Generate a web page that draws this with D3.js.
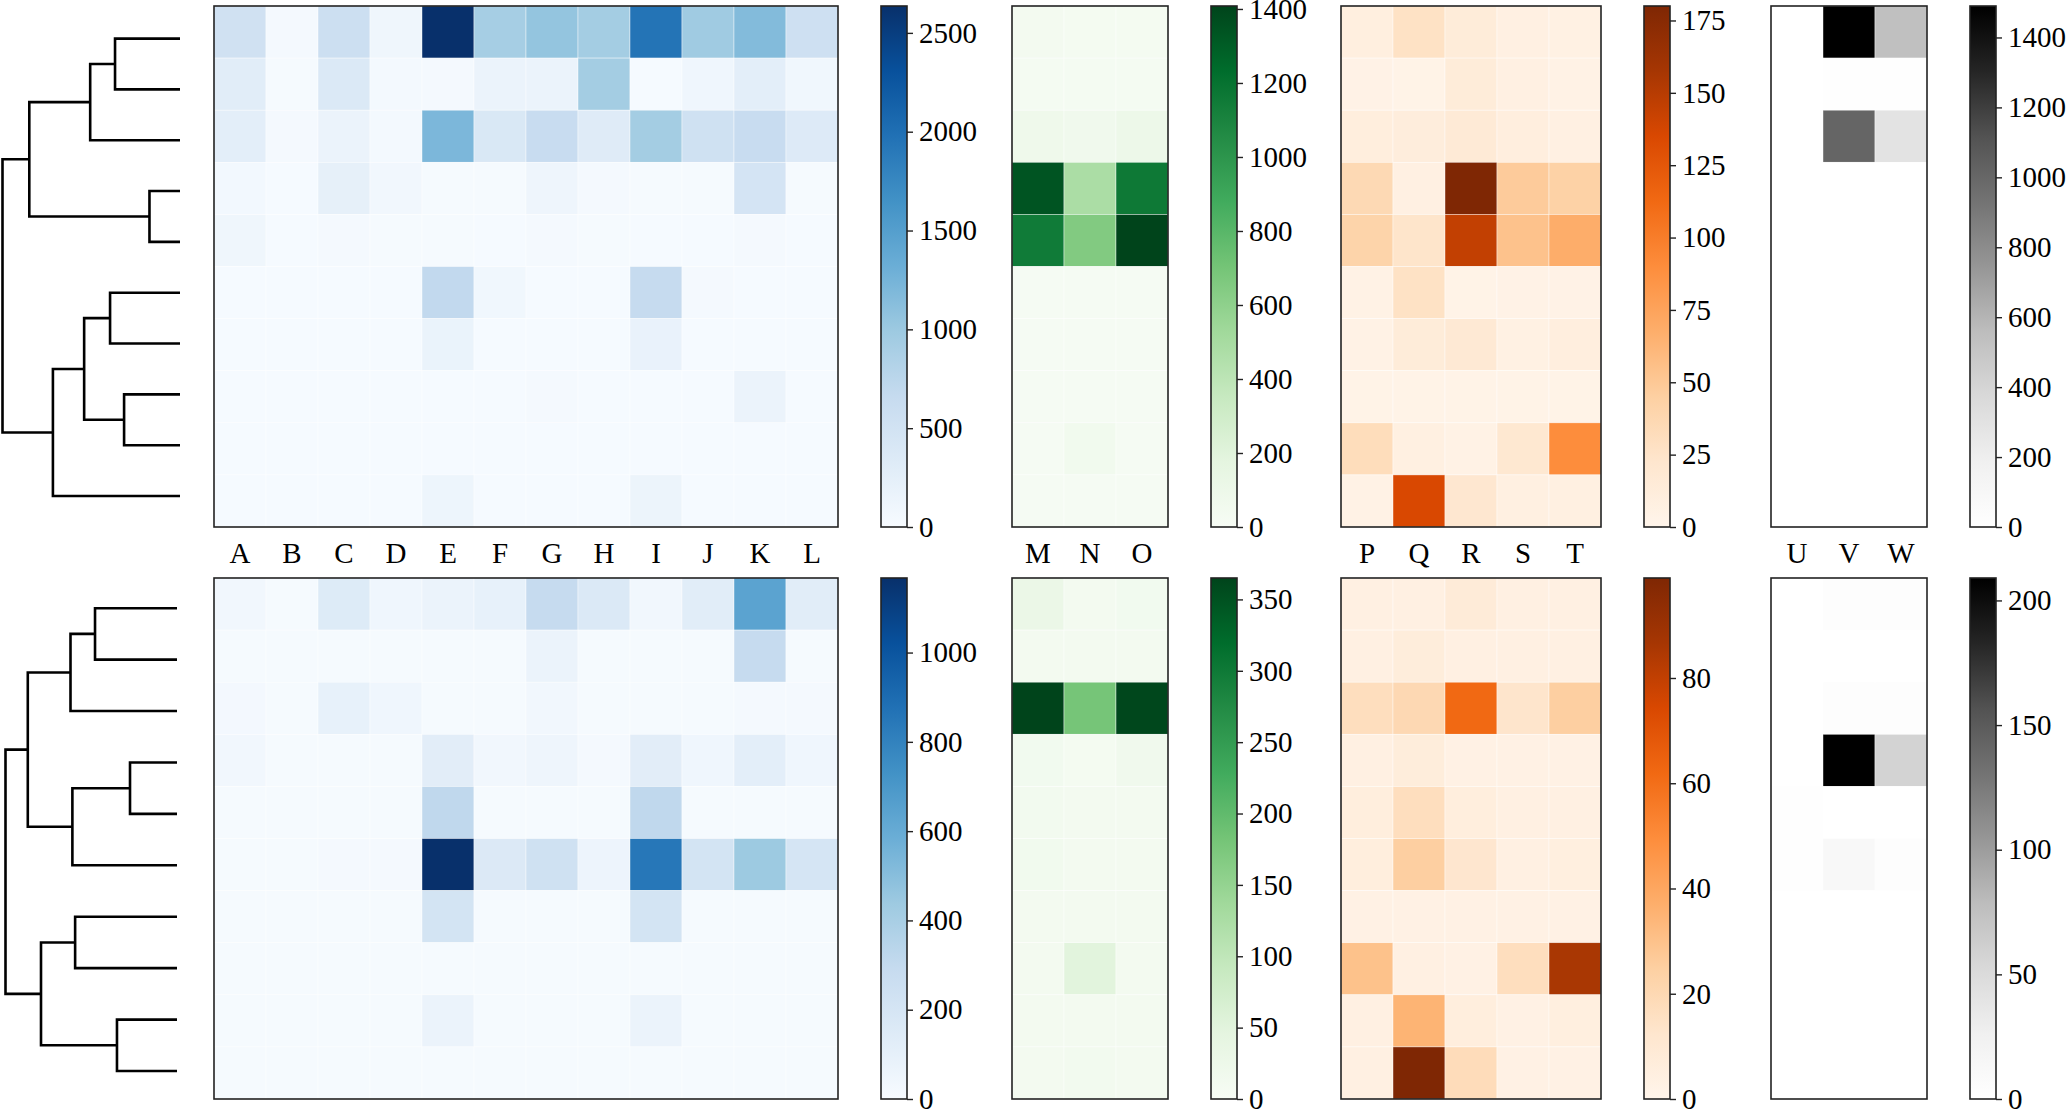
<!DOCTYPE html>
<html>
<head>
<meta charset="utf-8">
<script src="https://d3js.org/d3.v7.min.js"></script>
<style>
  body { margin: 0; background: #fff; }
  text { font-family: "Liberation Serif", "Times New Roman", serif; fill: #000; }
</style>
</head>
<body>
<svg id="chart" width="2067" height="1111"></svg>
<script>
// column labels for each block
const colsBlue = ["A","B","C","D","E","F","G","H","I","J","K","L"];
const colsGreen = ["M","N","O"];
const colsOrange = ["P","Q","R","S","T"];
const colsGray = ["U","V","W"];

// top heatmaps (10 rows, in dendrogram order)
const topBlue = [
  [527, 40, 580, 110, 2636, 920, 1050, 935, 1950, 975, 1160, 550],
  [290, 30, 370, 50, 40, 160, 160, 935, 20, 100, 260, 90],
  [260, 35, 160, 50, 1210, 400, 630, 320, 935, 530, 630, 340],
  [60, 20, 230, 80, 30, 30, 120, 40, 30, 30, 470, 30],
  [110, 20, 40, 30, 30, 20, 40, 30, 20, 20, 40, 20],
  [20, 20, 20, 20, 690, 90, 20, 20, 660, 40, 20, 20],
  [20, 20, 20, 20, 170, 20, 20, 20, 180, 20, 20, 20],
  [20, 20, 20, 20, 20, 20, 40, 20, 20, 20, 160, 20],
  [20, 20, 20, 20, 20, 20, 20, 20, 20, 20, 20, 20],
  [20, 20, 20, 20, 130, 20, 20, 20, 150, 20, 20, 20]
];
const topGreen = [
  [40, 30, 30],
  [25, 25, 25],
  [80, 70, 100],
  [1340, 480, 1160],
  [1150, 650, 1408],
  [20, 20, 20],
  [20, 20, 20],
  [20, 20, 20],
  [20, 60, 20],
  [20, 20, 20]
];
const topOrange = [
  [9, 27, 14, 7, 6],
  [4, 3, 14, 7, 5],
  [11, 12, 16, 10, 7],
  [36, 7, 180, 48, 43],
  [41, 24, 145, 54, 68],
  [5, 27, 3, 4, 4],
  [5, 14, 18, 6, 10],
  [3, 3, 3, 3, 3],
  [32, 8, 5, 20, 90],
  [5, 135, 21, 8, 8]
];
const topGray = [
  [0, 1490, 540],
  [0, 15, 15],
  [0, 1010, 290],
  [0, 0, 0],
  [0, 5, 5],
  [0, 0, 0],
  [0, 0, 0],
  [0, 0, 0],
  [0, 0, 0],
  [0, 0, 0]
];

// bottom heatmaps
const bottomBlue = [
  [35, 10, 150, 45, 70, 95, 290, 165, 35, 130, 640, 130],
  [10, 10, 10, 10, 10, 10, 70, 10, 10, 10, 290, 10],
  [25, 10, 95, 45, 10, 10, 35, 10, 10, 10, 20, 15],
  [35, 10, 10, 10, 125, 35, 55, 20, 125, 45, 115, 45],
  [10, 10, 10, 10, 315, 10, 10, 10, 315, 10, 10, 10],
  [10, 10, 20, 20, 1167, 160, 235, 60, 850, 210, 440, 200],
  [10, 10, 10, 10, 210, 10, 10, 10, 210, 10, 10, 10],
  [10, 10, 10, 10, 10, 10, 10, 10, 10, 10, 10, 10],
  [10, 10, 10, 10, 70, 10, 10, 10, 70, 10, 10, 10],
  [10, 10, 10, 10, 10, 10, 10, 10, 10, 10, 10, 10]
];
const bottomGreen = [
  [30, 10, 14],
  [10, 10, 10],
  [365, 180, 362],
  [14, 8, 17],
  [12, 10, 10],
  [15, 10, 10],
  [10, 10, 10],
  [10, 50, 10],
  [10, 10, 10],
  [10, 12, 10]
];
const bottomOrange = [
  [4, 4, 8, 4, 4],
  [4, 7, 4, 4, 4],
  [17, 20, 62, 13, 25],
  [4, 7, 3, 3, 3],
  [6, 17, 6, 4, 4],
  [6, 25, 12, 4, 5],
  [3, 3, 3, 3, 3],
  [30, 4, 3, 17, 86],
  [4, 35, 6, 3, 5],
  [4, 99, 18, 3, 3]
];
const bottomGray = [
  [0, 4, 4],
  [0, 0, 0],
  [0, 4, 3],
  [0, 209, 58],
  [2, 0, 0],
  [2, 12, 4],
  [0, 0, 0],
  [0, 0, 0],
  [0, 0, 0],
  [0, 0, 0]
];

// colorbar tick labels
const ticksTopBlue = [0, 500, 1000, 1500, 2000, 2500];
const ticksTopGreen = [0, 200, 400, 600, 800, 1000, 1200, 1400];
const ticksTopOrange = [0, 25, 50, 75, 100, 125, 150, 175];
const ticksTopGray = [0, 200, 400, 600, 800, 1000, 1200, 1400];
const ticksBottomBlue = [0, 200, 400, 600, 800, 1000];
const ticksBottomGreen = [0, 50, 100, 150, 200, 250, 300, 350];
const ticksBottomOrange = [0, 20, 40, 60, 80];
const ticksBottomGray = [0, 50, 100, 150, 200];

// dendrograms as linkage rows: [left child, right child, height]; leaves are 0..9
const linkTop = [
  [0, 1, 0.366], [10, 2, 0.506], [3, 4, 0.172], [11, 12, 0.849],
  [5, 6, 0.394], [7, 8, 0.315], [14, 15, 0.540], [16, 9, 0.716],
  [13, 17, 1.0]
];
const linkBottom = [
  [0, 1, 0.478], [10, 2, 0.621], [3, 4, 0.274], [12, 5, 0.610],
  [11, 13, 0.870], [6, 7, 0.594], [8, 9, 0.350], [15, 16, 0.793],
  [14, 17, 1.0]
];

// ---- layout ----
const svg = d3.select("#chart");
const cell = 52;
const rowsY = [{y0: 6, y1: 527}, {y0: 578, y1: 1099}];
const fontSize = 29;

const blocks = [
  {cols: colsBlue, data: [topBlue, bottomBlue], scheme: d3.schemeBlues[9],
   ticks: [ticksTopBlue, ticksBottomBlue], x: 214, cbX: 881},
  {cols: colsGreen, data: [topGreen, bottomGreen], scheme: d3.schemeGreens[9],
   ticks: [ticksTopGreen, ticksBottomGreen], x: 1012, cbX: 1211},
  {cols: colsOrange, data: [topOrange, bottomOrange], scheme: d3.schemeOranges[9],
   ticks: [ticksTopOrange, ticksBottomOrange], x: 1341, cbX: 1644},
  {cols: colsGray, data: [topGray, bottomGray], scheme: d3.schemeGreys[9],
   ticks: [ticksTopGray, ticksBottomGray], x: 1771, cbX: 1970}
];

// matplotlib-like linear segmented colormap from the 9 brewer colours
function makeColor(scheme, vmax){
    return d3.scaleLinear()
        .domain(scheme.map((c, i) => i / (scheme.length - 1) * vmax))
        .range(scheme)
        .interpolate(d3.interpolateRgb)
        .clamp(true);
}

let gradId = 0;

function drawHeatmap(block, r){
    let rows = block.data[r];
    let {y0, y1} = rowsY[r];
    let vmax = d3.max(rows.flat());
    let color = makeColor(block.scheme, vmax);

    let x = d3.scaleBand().domain(block.cols)
        .range([block.x, block.x + cell * block.cols.length]);
    let y = d3.scaleBand().domain(d3.range(rows.length)).range([y0, y1]);

    let g = svg.append("g");
    let cells = rows.flatMap((row, i) => row.map((v, j) => ({i, j, v})));
    g.selectAll("rect.cell").data(cells).join("rect")
        .attr("class", "cell")
        .attr("x", d => x(block.cols[d.j]))
        .attr("y", d => y(d.i))
        .attr("width", x.bandwidth())
        .attr("height", y.bandwidth())
        .attr("fill", d => color(d.v))
        .attr("stroke", "#fff")
        .attr("stroke-width", 0.7)
        .attr("stroke-opacity", 0.6);

    g.append("rect")
        .attr("x", x.range()[0]).attr("y", y0)
        .attr("width", x.range()[1] - x.range()[0]).attr("height", y1 - y0)
        .attr("fill", "none").attr("stroke", "#222").attr("stroke-width", 1.6);

    // column labels sit under the top row only
    if (r === 0){
        g.selectAll("text.col").data(block.cols).join("text")
            .attr("class", "col")
            .attr("x", d => x(d) + x.bandwidth() / 2)
            .attr("y", y1 + 26)
            .attr("dy", "0.35em")
            .attr("text-anchor", "middle")
            .style("font-size", fontSize + "px")
            .text(d => d);
    }

    // colorbar
    let id = "grad" + (gradId++);
    let grad = svg.append("defs").append("linearGradient")
        .attr("id", id).attr("x1", 0).attr("y1", 1).attr("x2", 0).attr("y2", 0);
    grad.selectAll("stop").data(block.scheme).join("stop")
        .attr("offset", (c, i) => i / (block.scheme.length - 1))
        .attr("stop-color", c => c);

    let cbW = 26;
    let cb = svg.append("g");
    cb.append("rect")
        .attr("x", block.cbX).attr("y", y0)
        .attr("width", cbW).attr("height", y1 - y0)
        .attr("fill", "url(#" + id + ")")
        .attr("stroke", "#222").attr("stroke-width", 1.6);

    let scale = d3.scaleLinear().domain([0, vmax]).range([y1, y0]);
    let axis = cb.append("g")
        .attr("transform", "translate(" + (block.cbX + cbW) + ",0)")
        .call(d3.axisRight(scale).tickValues(block.ticks[r]).tickSize(6).tickPadding(6)
              .tickFormat(d3.format("d")));
    axis.select(".domain").remove();
    axis.selectAll("line").attr("stroke", "#222").attr("stroke-width", 1.4);
    axis.selectAll("text")
        .style("font-size", fontSize + "px")
        .style("font-family", "'Liberation Serif', serif")
        .attr("fill", "#000");
}

// scipy style dendrogram: U shaped links drawn leftwards
function drawDendrogram(links, yRange, xRange){
    let n = links.length + 1;
    let y = d3.scalePoint().domain(d3.range(n)).range(yRange);
    let x = d3.scaleLinear().domain([0, 1]).range(xRange);

    let pos = d3.range(n).map(i => ({y: y(i), h: 0}));
    links.forEach(([a, b, h]) => {
        pos.push({y: (pos[a].y + pos[b].y) / 2, h: h, a: a, b: b});
    });

    let line = d3.line().x(d => x(d[0])).y(d => d[1]);
    svg.append("g").selectAll("path")
        .data(pos.filter(p => p.a !== undefined))
        .join("path")
        .attr("d", p => line([
            [pos[p.a].h, pos[p.a].y], [p.h, pos[p.a].y],
            [p.h, pos[p.b].y], [pos[p.b].h, pos[p.b].y]
        ]))
        .attr("fill", "none")
        .attr("stroke", "#000")
        .attr("stroke-width", 2.6);
}

drawDendrogram(linkTop, [38.6, 496], [180, 2.5]);
drawDendrogram(linkBottom, [608.2, 1071], [177, 5.5]);

blocks.forEach(b => {
    drawHeatmap(b, 0);
    drawHeatmap(b, 1);
});
</script>
</body>
</html>
